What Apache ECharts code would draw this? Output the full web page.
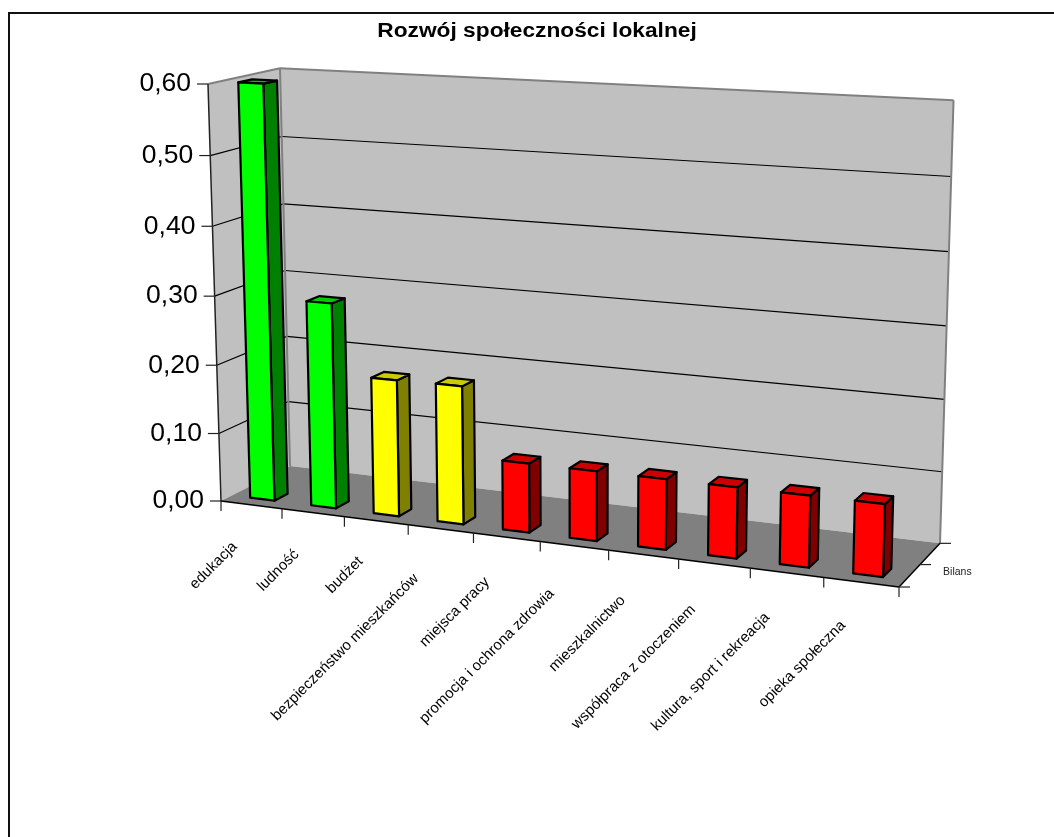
<!DOCTYPE html>
<html><head><meta charset="utf-8">
<style>html,body{margin:0;padding:0;background:#fff}#c{width:1054px;height:837px}</style>
<script src="https://cdn.jsdelivr.net/npm/echarts@6/dist/echarts.min.js"></script>
</head><body><div id="c"></div>
<script>
const categories = ['edukacja','ludność','budżet','bezpieczeństwo mieszkańców','miejsca pracy','promocja i ochrona zdrowia','mieszkalnictwo','współpraca z otoczeniem','kultura, sport i rekreacja','opieka społeczna'];
const values = [0.60,0.297,0.196,0.197,0.098,0.098,0.098,0.098,0.098,0.098];
const groups = ['g','g','y','y','r','r','r','r','r','r'];
const valueTicks = [0,0.1,0.2,0.3,0.4,0.5,0.6];
const tickLabels = ['0,00','0,10','0,20','0,30','0,40','0,50','0,60'];
const seriesName = 'Bilans';
const titleText = 'Rozwój społeczności lokalnej';

const labelNudge = [4.5,4.5,3.5,12.5,7.5,10.5,8.5,9,7.5,6];
const faces = {g:['#00FF00','#008000','#00CC00'], y:['#FFFF00','#808000','#CCCC00'], r:['#FF0000','#800000','#CC0000']};
const FONT = '"Liberation Sans", Arial, sans-serif';
const G = {left:221, top:84, width:678, height:417};
// corners of the projected box
const A=[221,501], B=[208,84], C=[290,466], E=[899,587];
const eE=0.89, eB=0.9655, eC=1.05;
const W0=0.155, W1=0.345;

function proj(u,v,w){
  const h=[0,1,2].map(k=>{
    const a=k<2?A[k]:1,b=k<2?B[k]:1,c=k<2?C[k]:1,e=k<2?E[k]:1;
    return a+u*(eE*e-a)+v*(eB*b-a)+w*(eC*c-a);
  });
  return [h[0]/h[2],h[1]/h[2]];
}
function poly(pts,fill,stroke,lw){
  return {type:'polygon',shape:{points:pts},style:{fill:fill,stroke:stroke||null,lineWidth:lw||0,lineJoin:'round'}};
}
function line(p,q,c,lw){
  return {type:'line',shape:{x1:p[0],y1:p[1],x2:q[0],y2:q[1]},style:{stroke:c,lineWidth:lw,fill:null}};
}
function vOf(api,val){ return (G.top+G.height-api.coord([0,val])[1])/G.height; }

function renderFrame(params,api){
  const ch=[];
  const P=proj;
  ch.push(poly([P(0,0,0),P(0,1,0),P(0,1,1),P(0,0,1)],'#C0C0C0'));
  ch.push(poly([P(0,0,1),P(0,1,1),P(1,1,1),P(1,0,1)],'#C0C0C0'));
  ch.push(poly([P(0,0,0),P(0,0,1),P(1,0,1),P(1,0,0)],'#808080'));
  valueTicks.forEach(t=>{
    const v=vOf(api,t);
    if(t>0&&t<0.6){
      ch.push(line(P(0,v,0),P(0,v,1),'#000',1.2));
      ch.push(line(P(0,v,1),P(1,v,1),'#000',1.2));
    }
  });
  ch.push(line(P(0,1,0),P(0,1,1),'#808080',2));
  ch.push(line(P(0,1,1),P(1,1,1),'#808080',2));
  ch.push(line(P(0,0,1),P(0,1,1),'#808080',2));
  ch.push(line(P(1,0,1),P(1,1,1),'#808080',2));
  ch.push(line(P(0,0,0),P(0,1,0),'#222',1.5));
  ch.push(line(P(0,0,0),P(1,0,0),'#000',1.5));
  ch.push(line(P(1,0,0),P(1,0,1),'#000',1.5));
  valueTicks.forEach((t,i)=>{
    const p=P(0,vOf(api,t),0);
    ch.push(line([p[0]-11,p[1]],p,'#222',1.2));
    ch.push({type:'text',x:p[0]-17,y:p[1],style:{text:tickLabels[i],font:'26.5px '+FONT,fill:'#000',align:'right',verticalAlign:'middle'}});
  });
  for(let i=0;i<=categories.length;i++){
    const p=P(i/categories.length,0,0);
    ch.push(line(p,[p[0],p[1]+10],'#222',1.2));
  }
  [0,0.5,1].forEach(w=>{
    const p=P(1,0,w);
    ch.push(line(p,[p[0]+11,p[1]],'#222',1.2));
  });
  const m=P(1,0,0.5);
  ch.push({type:'text',x:m[0]+23,y:m[1]+8,style:{text:seriesName,font:'10.5px '+FONT,fill:'#222',align:'left',verticalAlign:'middle'}});
  return {type:'group',children:ch};
}
function renderBar(params,api){
  const i=api.value(0), val=api.value(1);
  const c=api.coord([i,val]), base=api.coord([i,0]);
  const hw=api.size([1,0])[0]*0.2;
  const u0=(c[0]-hw-G.left)/G.width, u1=(c[0]+hw-G.left)/G.width;
  const v=(base[1]-c[1])/G.height;
  const f=faces[groups[i]];
  const lw=2.2;
  const a=proj(u0,0,W0),b=proj(u1,0,W0),d=proj(u1,v,W0),e=proj(u0,v,W0);
  const b2=proj(u1,0,W1),d2=proj(u1,v,W1),e2=proj(u0,v,W1);
  const uc=(base[0]-G.left)/G.width, lab=proj(uc,0,0);
  const t=labelNudge[i];
  return {type:'group',children:[
    poly([b,b2,d2,d],f[1],'#000',lw),
    poly([e,d,d2,e2],f[2],'#000',lw),
    poly([a,b,d,e],f[0],'#000',lw),
    {type:'text',x:lab[0]-12-t,y:lab[1]+35+t,rotation:Math.PI/4,originX:0,originY:0,
     style:{text:categories[i],font:'15px '+FONT,fill:'#000',align:'right',verticalAlign:'middle'}}
  ]};
}
const chart=echarts.init(document.getElementById('c'),null,{renderer:'canvas'});
chart.setOption({
  animation:false,
  backgroundColor:'#fff',
  grid:{left:G.left,top:G.top,width:G.width,height:G.height},
  xAxis:{type:'category',data:categories,show:false},
  yAxis:{type:'value',min:0,max:0.6,interval:0.1,show:false},
  graphic:[
    {type:'rect',z:-1,shape:{x:9,y:13,width:1100,height:900},style:{fill:'#fff',stroke:'#111',lineWidth:2}},
    {type:'text',z:5,x:537,y:31,scaleX:1.136,style:{text:titleText,font:'bold 20px '+FONT,fill:'#000',align:'center',verticalAlign:'middle'}}
  ],
  series:[
    {type:'custom',name:'frame',z:1,renderItem:renderFrame,data:[[0,0]],clip:false,silent:true},
    {type:'custom',name:seriesName,z:2,renderItem:renderBar,clip:false,
     encode:{x:0,y:1},data:values.map((v,i)=>[i,v])}
  ]
});
</script></body></html>
